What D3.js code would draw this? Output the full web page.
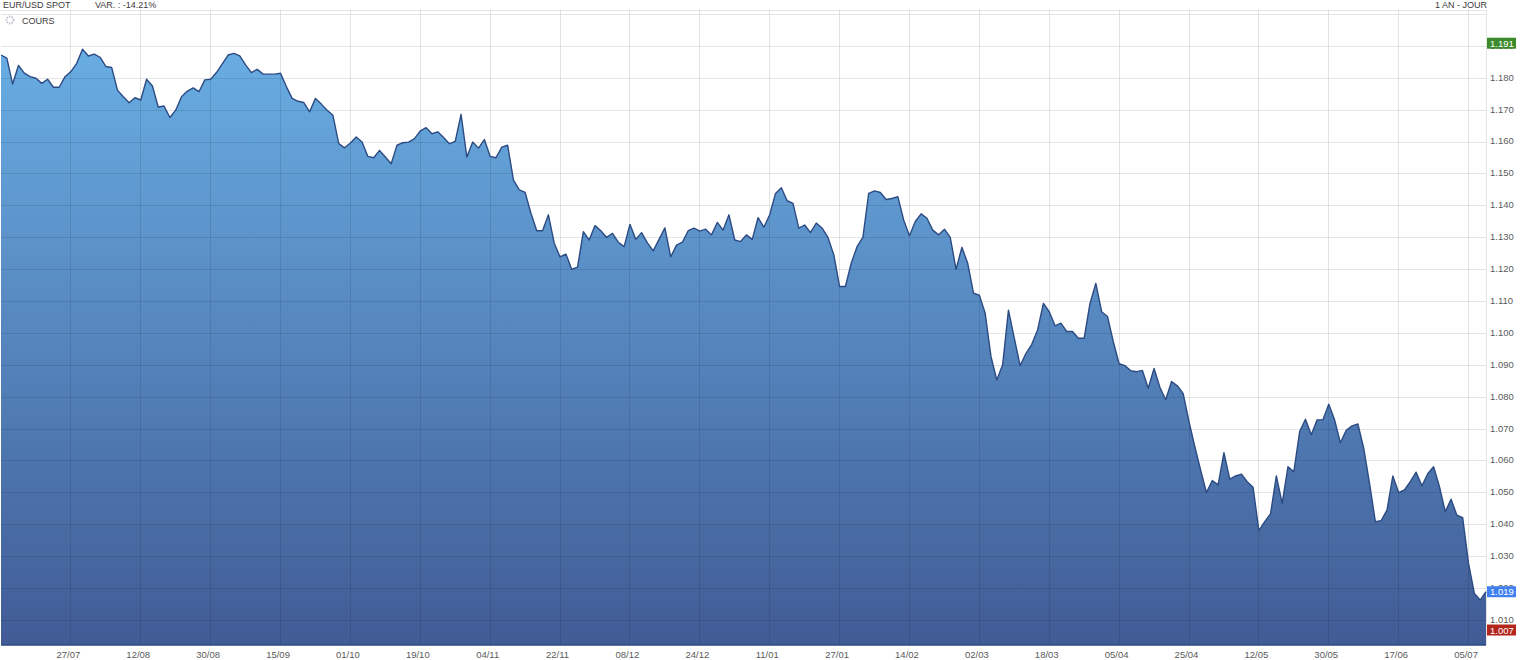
<!DOCTYPE html>
<html>
<head>
<meta charset="utf-8">
<script src="https://cdn.jsdelivr.net/npm/d3@7"></script>
<style>
  body { margin: 0; background: #fff; }
  svg { display: block; font-family: Arial, "Liberation Sans", sans-serif; }
</style>
</head>
<body>
<script>
    // Header texts
    var title = "EUR/USD SPOT";
    var variation = "VAR. : -14.21%";
    var period = "1 AN - JOUR";
    var seriesName = "COURS";

    // x tick labels, one every 12 trading days
    var tickLabels = ["27/07", "12/08", "30/08", "15/09", "01/10", "19/10", "04/11",
                      "22/11", "08/12", "24/12", "11/01", "27/01", "14/02", "02/03",
                      "18/03", "05/04", "25/04", "12/05", "30/05", "17/06", "05/07"];

    // y tick values
    var yTicks = [1.01, 1.02, 1.03, 1.04, 1.05, 1.06, 1.07, 1.08, 1.09, 1.10,
                  1.11, 1.12, 1.13, 1.14, 1.15, 1.16, 1.17, 1.18, 1.19];

    // markers: high, last, low
    var markerValues = [1.191, 1.019, 1.007];

    // daily close, EUR/USD
    var rates = [
        1.1873, 1.1863, 1.1782, 1.1840, 1.1816, 1.1805, 1.1800, 1.1784, 1.1797, 1.1772,
        1.1772, 1.1805, 1.1821, 1.1847, 1.1891, 1.1870, 1.1876, 1.1866, 1.1837, 1.1834,
        1.1763, 1.1742, 1.1723, 1.1739, 1.1732, 1.1797, 1.1776, 1.1710, 1.1713, 1.1677,
        1.1700, 1.1742, 1.1760, 1.1770, 1.1758, 1.1795, 1.1797, 1.1818, 1.1845, 1.1873,
        1.1878, 1.1870, 1.1842, 1.1818, 1.1828, 1.1813, 1.1813, 1.1813, 1.1816, 1.1774,
        1.1737, 1.1728, 1.1724, 1.1695, 1.1737, 1.1719, 1.1700, 1.1684, 1.1595, 1.1582,
        1.1597, 1.1616, 1.1600, 1.1555, 1.1551, 1.1574, 1.1553, 1.1532, 1.1590, 1.1598,
        1.1600, 1.1611, 1.1635, 1.1645, 1.1626, 1.1632, 1.1614, 1.1595, 1.1602, 1.1687,
        1.1553, 1.1600, 1.1581, 1.1608, 1.1555, 1.1551, 1.1584, 1.1590, 1.1481, 1.1450,
        1.1442, 1.1377, 1.1322, 1.1322, 1.1372, 1.1283, 1.1240, 1.1249, 1.1201, 1.1208,
        1.1319, 1.1293, 1.1338, 1.1322, 1.1301, 1.1314, 1.1286, 1.1272, 1.1342, 1.1295,
        1.1316, 1.1284, 1.1259, 1.1295, 1.1331, 1.1240, 1.1277, 1.1286, 1.1322, 1.1330,
        1.1321, 1.1327, 1.1309, 1.1348, 1.1324, 1.1372, 1.1293, 1.1288, 1.1309, 1.1295,
        1.1363, 1.1333, 1.1372, 1.1439, 1.1457, 1.1416, 1.1408, 1.1330, 1.1340, 1.1316,
        1.1346, 1.1330, 1.1301, 1.1247, 1.1147, 1.1147, 1.1220, 1.1272, 1.1301, 1.1439,
        1.1447, 1.1442, 1.1420, 1.1423, 1.1429, 1.1356, 1.1306, 1.1351, 1.1375, 1.1361,
        1.1324, 1.1309, 1.1327, 1.1301, 1.1201, 1.1270, 1.1220, 1.1126, 1.1120, 1.1063,
        1.0927, 1.0854, 1.0902, 1.1073, 1.0985, 1.0899, 1.0937, 1.0966, 1.1011, 1.1094,
        1.1068, 1.1024, 1.1032, 1.1006, 1.1006, 1.0985, 1.0985, 1.1094, 1.1157, 1.1068,
        1.1053, 1.0974, 1.0905, 1.0899, 1.0883, 1.0880, 1.0884, 1.0828, 1.0890, 1.0831,
        1.0792, 1.0849, 1.0836, 1.0811, 1.0723, 1.0645, 1.0571, 1.0501, 1.0539, 1.0525,
        1.0626, 1.0543, 1.0553, 1.0559, 1.0535, 1.0518, 1.0382, 1.0410, 1.0434, 1.0553,
        1.0467, 1.0582, 1.0566, 1.0692, 1.0731, 1.0682, 1.0729, 1.0729, 1.0778, 1.0729,
        1.0657, 1.0696, 1.0710, 1.0716, 1.0640, 1.0530, 1.0410, 1.0413, 1.0446, 1.0553,
        1.0501, 1.0509, 1.0535, 1.0565, 1.0522, 1.0560, 1.0582, 1.0520, 1.0441, 1.0480,
        1.0430, 1.0422, 1.0279, 1.0185, 1.0164, 1.0190
    ];

    function init() {
        var w = 1524;
        var h = 660;
        var left = 1, right = 1486, top = 11, bottom = 645;

        var svg = d3.select("body")
                    .append("svg")
                    .attr("width", w)
                    .attr("height", h);

        // scales
        var xScale = d3.scaleLinear()
            .domain([0, rates.length - 1])
            .range([left, right]);

        var yScale = d3.scaleLinear()
            .domain([1.0023, 1.2011])
            .range([bottom, top]);

        var tickIndex = tickLabels.map(function(d, i) { return (i + 1) * 12; });

        // gradient for the area
        var grad = svg.append("defs").append("linearGradient")
            .attr("id", "fillGrad")
            .attr("gradientUnits", "userSpaceOnUse")
            .attr("x1", 0).attr("x2", 0)
            .attr("y1", 40).attr("y2", bottom);
        grad.append("stop").attr("offset", "0%").attr("stop-color", "#69afe4");
        grad.append("stop").attr("offset", "100%").attr("stop-color", "#415b95");

        // area + line
        var area = d3.area()
            .x(function(d, i) { return xScale(i); })
            .y0(bottom)
            .y1(function(d) { return yScale(d); });

        var line = d3.line()
            .x(function(d, i) { return xScale(i); })
            .y(function(d) { return yScale(d); });

        svg.append("path")
            .datum(rates)
            .attr("d", area)
            .attr("fill", "url(#fillGrad)");

        // grid (over the area, faint)
        var grid = svg.append("g")
            .attr("stroke", "#000")
            .attr("stroke-opacity", 0.1)
            .attr("shape-rendering", "crispEdges");

        grid.selectAll(".hl")
            .data(yTicks.concat([1.20]))
            .enter()
            .append("line")
            .attr("x1", left).attr("x2", right)
            .attr("y1", function(d) { return yScale(d); })
            .attr("y2", function(d) { return yScale(d); });

        grid.selectAll(".vl")
            .data(tickIndex)
            .enter()
            .append("line")
            .attr("x1", function(d) { return xScale(d); })
            .attr("x2", function(d) { return xScale(d); })
            .attr("y1", top - 1).attr("y2", bottom);

        // plot frame
        grid.append("line").attr("x1", 0).attr("x2", right).attr("y1", top - 1).attr("y2", top - 1);
        grid.append("line").attr("x1", right).attr("x2", right).attr("y1", top - 1).attr("y2", bottom);

        svg.append("path")
            .datum(rates)
            .attr("d", line)
            .attr("fill", "none")
            .attr("stroke", "#2c4b83")
            .attr("stroke-width", 1.4)
            .attr("stroke-linejoin", "round");

        svg.append("line")
            .attr("x1", left).attr("x2", right)
            .attr("y1", bottom).attr("y2", bottom)
            .attr("stroke", "#2c4b83")
            .attr("stroke-width", 1.5);

        // x axis
        var xAxis = d3.axisBottom(xScale)
            .tickValues(tickIndex)
            .tickFormat(function(d, i) { return tickLabels[i]; })
            .tickSize(0)
            .tickPadding(6);

        var gx = svg.append("g")
            .attr("transform", "translate(0," + bottom + ")")
            .call(xAxis);
        gx.select(".domain").remove();
        gx.selectAll("text")
            .attr("dx", -3)
            .attr("fill", "#5a5a5a")
            .style("font-size", "9.5px")
            .style("font-family", "Arial, 'Liberation Sans', sans-serif");

        // y axis (right)
        var yAxis = d3.axisRight(yScale)
            .tickValues(yTicks)
            .tickFormat(d3.format(".3f"))
            .tickSize(0)
            .tickPadding(4);

        var gy = svg.append("g")
            .attr("transform", "translate(" + right + ",0)")
            .call(yAxis);
        gy.select(".domain").remove();
        gy.selectAll("text")
            .attr("dy", "0.2em")
            .attr("fill", "#5a5a5a")
            .style("font-size", "9.5px")
            .style("font-family", "Arial, 'Liberation Sans', sans-serif");

        // value markers (high / last / low)
        var markerColors = ["#3b8a2c", "#3f7ff0", "#b3261c"];
        var markers = svg.selectAll(".marker")
            .data(markerValues)
            .enter()
            .append("g")
            .attr("transform", function(d) { return "translate(" + (right + 1) + "," + yScale(d) + ")"; });

        markers.append("rect")
            .attr("x", 0).attr("y", -5.5)
            .attr("width", 29).attr("height", 11)
            .attr("fill", function(d, i) { return markerColors[i]; });

        markers.append("text")
            .attr("x", 3).attr("y", 3.5)
            .attr("fill", "#fff")
            .style("font-size", "9.5px")
            .text(function(d) { return d3.format(".3f")(d); });

        // header
        svg.append("text").attr("x", 3).attr("y", 7.5)
            .attr("fill", "#3a3a3a").style("font-size", "9px").text(title);
        svg.append("text").attr("x", 95).attr("y", 7.5)
            .attr("fill", "#3a3a3a").style("font-size", "9px").text(variation);
        svg.append("text").attr("x", right + 1).attr("y", 7.5)
            .attr("text-anchor", "end")
            .attr("fill", "#3a3a3a").style("font-size", "9px").text(period);

        // legend
        svg.append("circle")
            .attr("cx", 10).attr("cy", 20).attr("r", 3.5)
            .attr("fill", "none")
            .attr("stroke", "#c0c0cc")
            .attr("stroke-width", 1.8)
            .attr("stroke-dasharray", "1.5,1");
        svg.append("text").attr("x", 22).attr("y", 23.5)
            .attr("fill", "#3a3a3a").style("font-size", "9px").text(seriesName);
    }

    window.onload = init;
</script>
</body>
</html>
